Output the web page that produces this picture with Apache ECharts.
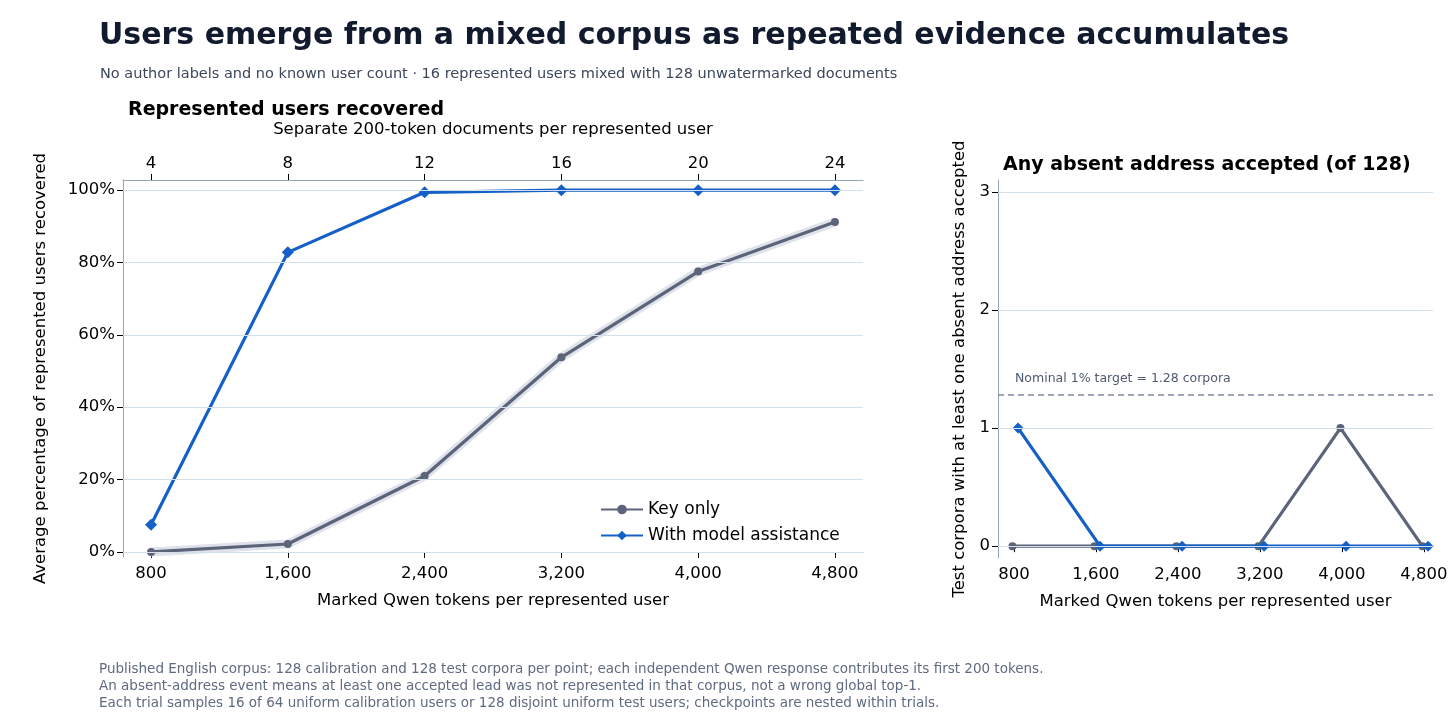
<!DOCTYPE html>
<html>
<head>
<meta charset="utf-8">
<script src="https://cdn.jsdelivr.net/npm/echarts@6/dist/echarts.min.js"></script>
<style>
  html, body { margin: 0; padding: 0; background: #fff; }
  #main { width: 1456px; height: 717px; }
</style>
</head>
<body>
<div id="main"></div>
<script>
// data
var tokens = [800, 1600, 2400, 3200, 4000, 4800];
var keyOnly = [0, 2.2, 21, 53.8, 77.5, 91.2];
var withModel = [7.5, 82.8, 99.4, 100, 100, 100];
var absentKeyOnly = [0, 0, 0, 0, 1, 0];
var absentWithModel = [1, 0, 0, 0, 0, 0];
var absentTicks = [0, 1, 2, 3];
var pctTicks = [0, 20, 40, 60, 80, 100];
var nominalTarget = 1.28;

var gray = '#5c6479';
var blue = '#1560c8';
var gridCol = '#d3e0ea';
var axisCol = '#98a4ba';
var font = 'DejaVu Sans';

function pair(xs, ys, shift) {
    return xs.map(function (x, i) { return [x + shift, ys[i]]; });
}

var myChart = echarts.init(document.getElementById('main'));
var option = {
    textStyle: { fontFamily: font },
    title: [
        { text: 'Users emerge from a mixed corpus as repeated evidence accumulates', left: 94, top: 16,
          textStyle: { fontSize: 30, fontWeight: 'bold', color: '#121a2e', fontFamily: font } },
        { text: 'No author labels and no known user count · 16 represented users mixed with 128 unwatermarked documents', left: 95, top: 62,
          textStyle: { fontSize: 14.5, fontWeight: 'normal', color: '#3c475c', fontFamily: font } },
        { text: 'Represented users recovered', left: 123, top: 96,
          textStyle: { fontSize: 19, fontWeight: 'bold', color: '#000', fontFamily: font } },
        { text: 'Any absent address accepted (of 128)', left: 998, top: 151,
          textStyle: { fontSize: 19, fontWeight: 'bold', color: '#000', fontFamily: font } },
        { text: 'Published English corpus: 128 calibration and 128 test corpora per point; each independent Qwen response contributes its first 200 tokens.\nAn absent-address event means at least one accepted lead was not represented in that corpus, not a wrong global top-1.\nEach trial samples 16 of 64 uniform calibration users or 128 disjoint uniform test users; checkpoints are nested within trials.',
          left: 94, top: 656,
          textStyle: { fontSize: 13.5, fontWeight: 'normal', color: '#5f6b80', lineHeight: 17, fontFamily: font } }
    ],
    legend: {
        left: 595, top: 496, orient: 'vertical', itemWidth: 42, itemHeight: 12, itemGap: 9,
        textStyle: { fontSize: 17, color: '#000' },
        data: ['Key only', 'With model assistance']
    },
    grid: [
        { left: 123, right: 593, top: 180, bottom: 160 },
        { left: 998, right: 23, top: 180, bottom: 159 }
    ],
    xAxis: [
        { gridIndex: 0, type: 'value', min: 636, max: 4964, name: 'Marked Qwen tokens per represented user',
          nameLocation: 'middle', nameGap: 35, nameTextStyle: { fontSize: 16.5, color: '#000' },
          axisLine: { lineStyle: { color: axisCol } }, axisTick: { show: true, customValues: tokens, length: 6, lineStyle: { color: '#000' } },
          axisLabel: { customValues: tokens, fontSize: 16.5, color: '#000', formatter: function (v) { return v.toLocaleString('en-US'); } },
          splitLine: { show: false } },
        { gridIndex: 0, type: 'value', position: 'top', min: 636, max: 4964, name: 'Separate 200-token documents per represented user',
          nameLocation: 'middle', nameGap: 42, nameTextStyle: { fontSize: 16.5, color: '#000' },
          axisLine: { lineStyle: { color: axisCol } }, axisTick: { show: true, customValues: tokens, length: 6, lineStyle: { color: '#000' } },
          axisLabel: { customValues: tokens, fontSize: 16.5, color: '#000', formatter: function (v) { return v / 200; } },
          splitLine: { show: false } },
        { gridIndex: 1, type: 'value', min: 644, max: 4888, name: 'Marked Qwen tokens per represented user',
          nameLocation: 'middle', nameGap: 35, nameTextStyle: { fontSize: 16.5, color: '#000' },
          axisLine: { lineStyle: { color: axisCol } }, axisTick: { show: true, customValues: tokens, length: 6, lineStyle: { color: '#000' } },
          axisLabel: { customValues: tokens, fontSize: 16.5, color: '#000', formatter: function (v) { return v.toLocaleString('en-US'); } },
          splitLine: { show: false } }
    ],
    yAxis: [
        { gridIndex: 0, type: 'value', min: -1.4, max: 102.8, name: 'Average percentage of represented users recovered',
          nameLocation: 'middle', nameGap: 74, nameTextStyle: { fontSize: 16.5, color: '#000' },
          axisLine: { show: true, lineStyle: { color: axisCol } }, axisTick: { show: true, customValues: pctTicks, length: 6, lineStyle: { color: '#000' } },
          axisLabel: { customValues: pctTicks, fontSize: 16.5, color: '#000', formatter: '{value}%' },
          splitLine: { show: false } },
        { gridIndex: 1, type: 'value', min: -0.1, max: 3.1, name: 'Test corpora with at least one absent address accepted',
          nameLocation: 'middle', nameGap: 30, nameTextStyle: { fontSize: 16.5, color: '#000' },
          axisLine: { show: true, lineStyle: { color: axisCol } }, axisTick: { show: true, customValues: absentTicks, length: 6, lineStyle: { color: '#000' } },
          axisLabel: { customValues: absentTicks, fontSize: 16.5, color: '#000' },
          splitLine: { show: false } }
    ],
    series: [
        // gridlines
        { type: 'line', xAxisIndex: 0, yAxisIndex: 0, data: [], silent: true,
          markLine: { silent: true, symbol: 'none', label: { show: false }, lineStyle: { color: gridCol, type: 'solid', width: 1 },
            data: pctTicks.map(function (v) { return { yAxis: v }; }) } },
        { type: 'line', xAxisIndex: 2, yAxisIndex: 1, data: [], silent: true,
          markLine: { silent: true, symbol: 'none', label: { show: false }, lineStyle: { color: gridCol, type: 'solid', width: 1 },
            data: absentTicks.map(function (v) { return { yAxis: v }; }) } },
        // faint band around key-only
        { type: 'line', xAxisIndex: 0, yAxisIndex: 0, data: pair(tokens, keyOnly, 0), silent: true, symbol: 'none',
          lineStyle: { color: '#dfe2ea', width: 9 }, z: 1 },
        { name: 'Key only', type: 'line', xAxisIndex: 0, yAxisIndex: 0, data: pair(tokens, keyOnly, 0),
          color: gray, symbol: 'circle', symbolSize: 8, lineStyle: { width: 3.2 }, z: 3 },
        { name: 'With model assistance', type: 'line', xAxisIndex: 0, yAxisIndex: 0, data: pair(tokens, withModel, 0),
          color: blue, symbol: 'diamond', symbolSize: 12, lineStyle: { width: 3.2 }, z: 4 },
        { name: 'Key only', type: 'line', xAxisIndex: 2, yAxisIndex: 1, data: pair(tokens, absentKeyOnly, -15),
          color: gray, symbol: 'circle', symbolSize: 8, lineStyle: { width: 3.2 }, z: 3,
          markLine: { silent: true, symbol: 'none', lineStyle: { color: '#7d88a0', type: [6, 4], width: 1.5 },
            label: { show: true, position: 'insideStartTop', formatter: 'Nominal 1% target = 1.28 corpora', fontSize: 12.5, color: '#4e5a70', distance: [17, 10] },
            data: [{ yAxis: nominalTarget }] } },
        { name: 'With model assistance', type: 'line', xAxisIndex: 2, yAxisIndex: 1, data: pair(tokens, absentWithModel, 40),
          color: blue, symbol: 'diamond', symbolSize: 11, lineStyle: { width: 3.2 }, z: 4 }
    ]
};
myChart.setOption(option);
</script>
</body>
</html>
